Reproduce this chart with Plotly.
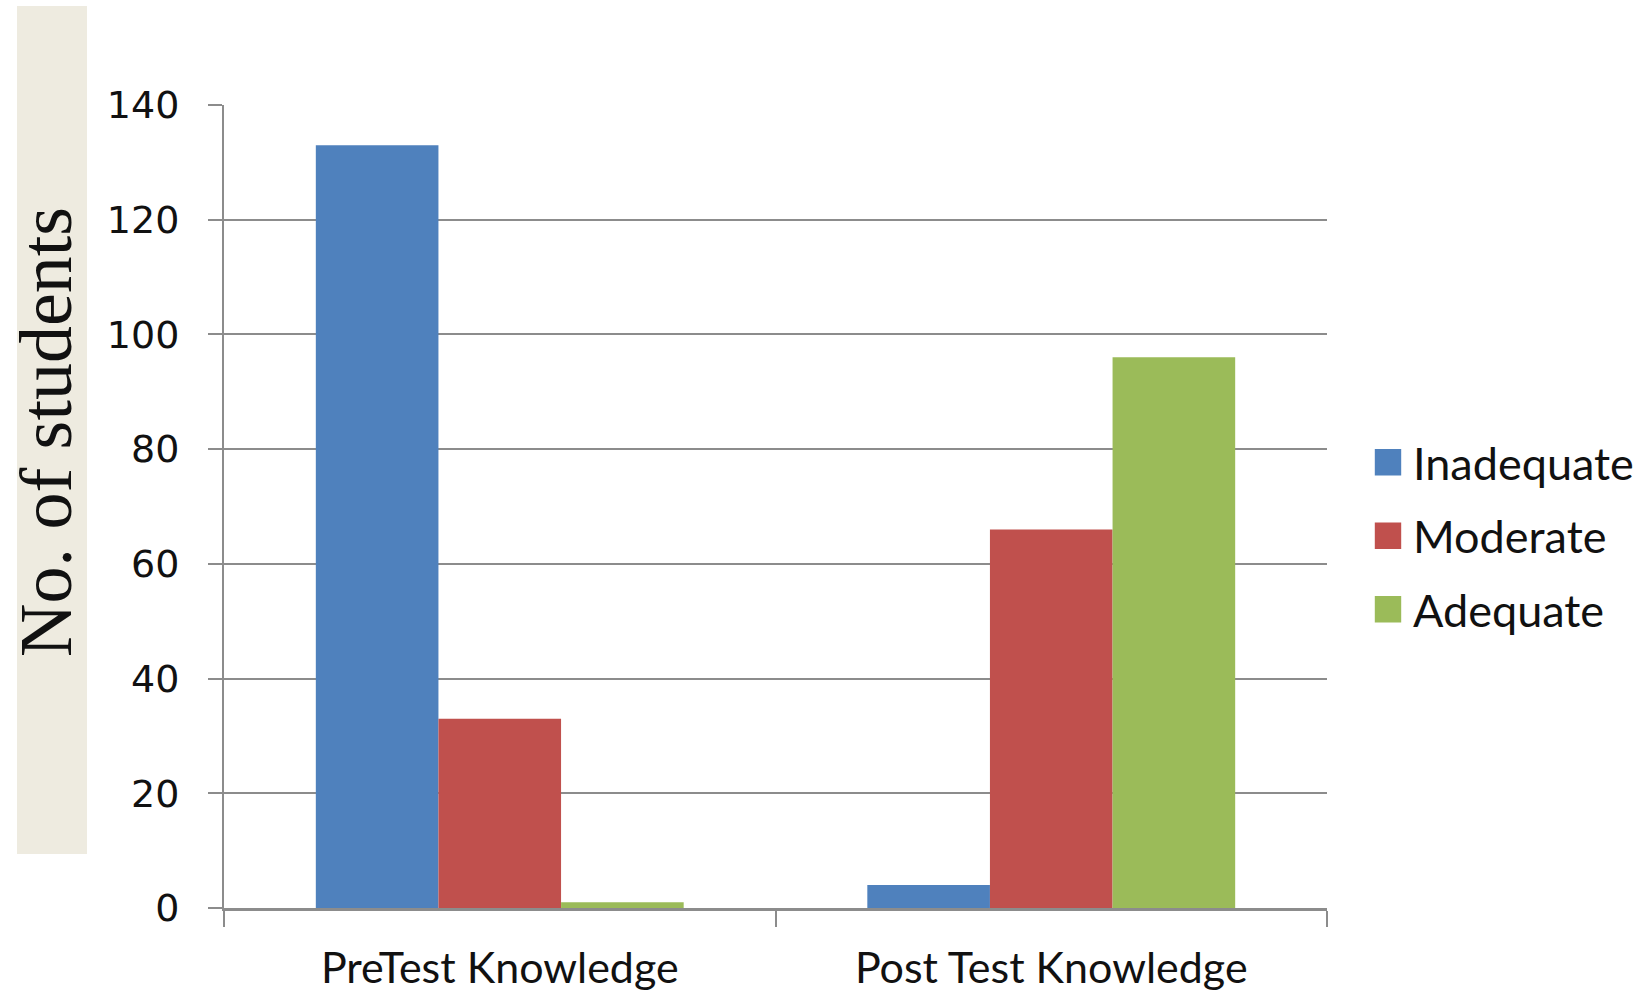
import plotly.graph_objects as go

categories = ["PreTest Knowledge", "Post Test Knowledge"]
series_names = ["Inadequate", "Moderate", "Adequate"]
inadequate = [133, 4]
moderate = [33, 66]
adequate = [1, 96]
colors = ["#4F81BD", "#C0504D", "#9BBB59"]
y_ticks = [0, 20, 40, 60, 80, 100, 120, 140]

W, H = 1645, 995
L, R, T, B = 224, 318, 105, 87
PW = W - L - R
PH = H - T - B

def px_x(p):
    return (p - L) / PW

def px_y(p):
    return (H - B - p) / PH

fig = go.Figure()
for i, (name, vals) in enumerate(zip(series_names, [inadequate, moderate, adequate])):
    fig.add_trace(go.Bar(
        x=categories, y=vals, name=name,
        marker=dict(color=colors[i], line=dict(width=0)),
        legendgroup=name,
    ))

# beige box behind y-axis title
fig.add_shape(type="rect", xref="paper", yref="paper",
              x0=px_x(17), x1=px_x(87), y0=px_y(854), y1=px_y(6),
              fillcolor="#EEEBE0", line=dict(width=0), layer="below")
fig.add_annotation(text="No. of students", xref="paper", yref="paper",
                   x=px_x(46), y=px_y(432), textangle=-90, showarrow=False,
                   xanchor="center", yanchor="middle",
                   font=dict(family="Liberation Serif, serif", size=74, color="#111111"))

fig.update_layout(
    width=W, height=H,
    margin=dict(l=L, r=R, t=T, b=B, autoexpand=False),
    paper_bgcolor="white", plot_bgcolor="white",
    barmode="group", bargap=0.333, bargroupgap=0,
    legend=dict(x=px_x(1363), xanchor="left", y=px_y(536), yanchor="middle",
                itemwidth=40,
                font=dict(family="Lato, Open Sans, sans-serif", size=45, color="#111111"),
                traceorder="grouped", tracegroupgap=12, bgcolor="rgba(0,0,0,0)"),
    showlegend=True,
)
fig.update_yaxes(range=[0, 140], tickvals=y_ticks, ticktext=[str(v) for v in y_ticks],
                 showgrid=True, gridcolor="#8C8C8C", gridwidth=2,
                 showline=True, linecolor="#8C8C8C", linewidth=2,
                 ticks="outside", ticklen=14, tickcolor="#8C8C8C", tickwidth=2,
                 ticklabelstandoff=21, zeroline=False, automargin=False,
                 tickfont=dict(family="DejaVu Sans, sans-serif", size=38, color="#111111"))
fig.update_xaxes(showline=True, linecolor="#8C8C8C", linewidth=3,
                 ticks="outside", tickson="boundaries", ticklen=16, tickcolor="#8C8C8C", tickwidth=2,
                 ticklabelstandoff=20, showgrid=False, automargin=False,
                 tickfont=dict(family="Lato, Open Sans, sans-serif", size=43, color="#111111"))

post = """
document.body.style.margin = '0';
document.querySelectorAll('.legendpoints path').forEach(function(p){
  var t = p.getAttribute('transform') || '';
  p.setAttribute('transform', t + ' scale(2.2)');
});
"""
fig.write_html("out.html", post_script=post, config={"displayModeBar": False})
